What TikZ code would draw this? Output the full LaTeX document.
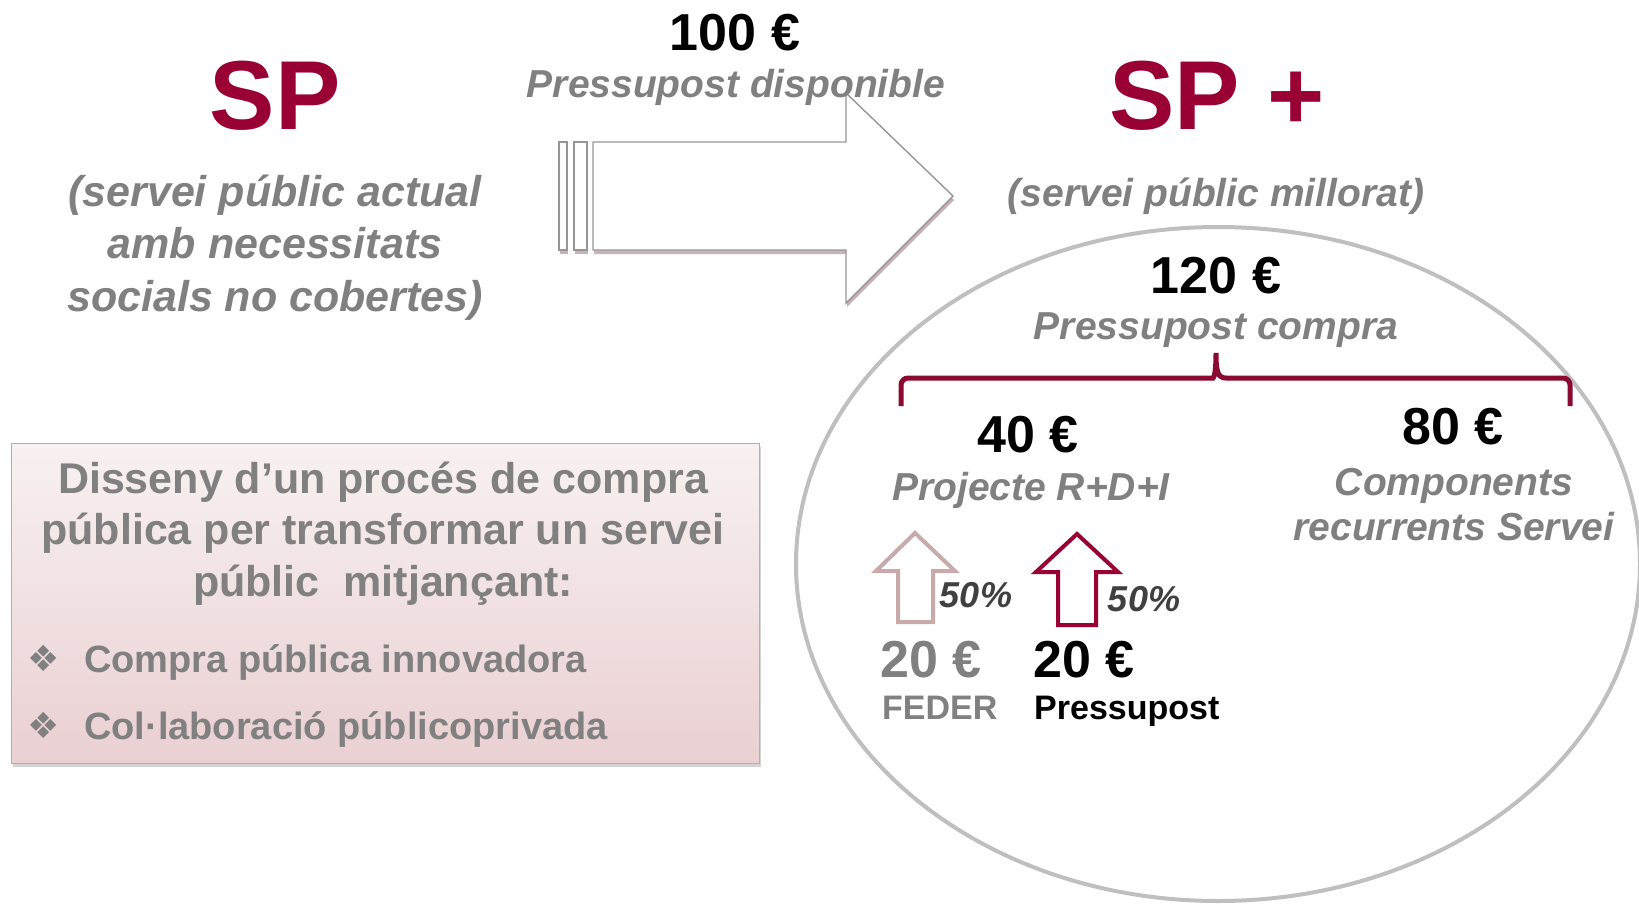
\documentclass[tikz,border=0pt]{standalone}
\usepackage{fontspec}
\setmainfont{Liberation Sans}
\newfontfamily\symfont{DejaVu Sans}
\usetikzlibrary{shadows}
\definecolor{maroon}{RGB}{153,0,51}
\definecolor{bracered}{RGB}{139,10,50}
\definecolor{textgray}{RGB}{128,128,128}
\definecolor{pctgray}{RGB}{64,64,64}
\definecolor{rosegray}{RGB}{200,170,170}
\definecolor{ringgray}{RGB}{191,191,191}
\definecolor{arrowgray}{RGB}{150,150,150}
\definecolor{boxtop}{RGB}{248,241,241}
\definecolor{boxbottom}{RGB}{234,208,210}
\definecolor{boxline}{RGB}{200,165,172}
\definecolor{shadowred}{RGB}{150,100,112}
\newcommand{\fsz}[2]{\fontsize{#1}{#2}\selectfont}
\begin{document}
\begin{tikzpicture}[x=1pt,y=-1pt,
  every node/.style={inner sep=0pt,anchor=base},
  bigtitle/.style={font=\fsz{98}{118}\bfseries,text=maroon},
  note/.style={font=\fsz{43}{52.5}\bfseries\itshape,text=textgray,align=center},
  label/.style={font=\fsz{39}{45}\bfseries\itshape,text=textgray,align=center},
  amount/.style={font=\fsz{52}{60}\bfseries},
  pct/.style={font=\fsz{36}{40}\bfseries\itshape,text=pctgray},
  small/.style={font=\fsz{34}{40}\bfseries},
  boxtext/.style={font=\fsz{43}{51.5}\bfseries,text=textgray,align=center},
  item/.style={font=\fsz{38}{44}\bfseries,text=textgray,anchor=base west},
  bulletmark/.style={text=textgray,font=\symfont\fsz{36}{40}},
  upshaft/.style={line width=4pt,line join=miter},
  softshadow/.style={drop shadow={shadow xshift=1pt,shadow yshift=-4pt,opacity=0.5,fill=shadowred}}]
\useasboundingbox (0,0) rectangle (1639,905);

% ring round the improved service
\draw[ringgray,line width=4pt] (1218,564) ellipse [x radius=422,y radius=337];

% big arrow
\draw[arrowgray,line width=1.4pt,fill=white,softshadow] (559,142) rectangle (567,250);
\draw[arrowgray,line width=1.4pt,fill=white,softshadow] (574,142) rectangle (587,250);
\draw[arrowgray,line width=1.4pt,fill=white,softshadow,line join=miter]
  (593,142) -- (846,142) -- (846,93) -- (953,196) -- (846,303) -- (846,250) -- (593,250) -- cycle;

% left side
\node[bigtitle] (sp) at (275,129) {SP};
\node[note] (spnote) at (275,311) {(servei públic actual\\amb necessitats\\socials no cobertes)};

\node[amount] (budget) at (735,50) {100 €};
\node[label] (budgetlbl) at (736,97) {Pressupost disponible};

% right side
\node[bigtitle] (spplus) at (1217,129) {SP +};
\node[note,font=\fsz{39}{48}\bfseries\itshape] (spplusnote) at (1216,206) {(servei públic millorat)};
\node[amount] (total) at (1216,293) {120 €};
\node[label] (totallbl) at (1216,339) {Pressupost compra};

% brace
\draw[bracered,line width=5pt,
  preaction={draw=black,opacity=0.2,transform canvas={shift={(1pt,-3pt)}}}]
  (901,406) [rounded corners=7pt] -- (901,378) -- (1206,378) [sharp corners]
  .. controls (1214,378) and (1216,372) .. (1216,353)
  .. controls (1216,372) and (1218,378) .. (1226,378) [rounded corners=7pt]
  -- (1570,378) -- (1570,406);

\node[amount] (rdi) at (1028,452) {40 €};
\node[label] (rdilbl) at (1031,500) {Projecte R+D+I};
\node[amount] (rec) at (1453,444) {80 €};
\node[label] (reclbl) at (1454,540) {Components\\recurrents Servei};

% up arrows
\draw[upshaft,rosegray] (915,533) -- (955,571) -- (933,571) -- (933,622) -- (898,622) -- (898,571) -- (876,571) -- cycle;
\draw[upshaft,maroon] (1077,534) -- (1118,572) -- (1096,572) -- (1096,625) -- (1058,625) -- (1058,572) -- (1036,572) -- cycle;
\node[pct] (pctfeder) at (976,607) {50\%};
\node[pct] (pctown) at (1144,611) {50\%};

\node[amount,text=textgray,anchor=base west] (feder) at (880,677) {20 €};
\node[small,text=textgray,anchor=base west] (federlbl) at (882,719) {FEDER};
\node[amount,anchor=base west] (own) at (1033,677) {20 €};
\node[small,anchor=base west] (ownlbl) at (1034,719) {Pressupost};

% box
\fill[top color=boxtop,bottom color=boxbottom,drop shadow={shadow xshift=2pt,shadow yshift=-4pt,opacity=0.35,fill=gray}]
  (11,443) rectangle (759,763);
\draw[boxline,line width=1pt] (11,443) rectangle (759,763);
\node[boxtext] (boxhead) at (383,596) {Disseny d’un procés de compra\\pública per transformar un servei\\públic\ \ mitjançant:};
\node[bulletmark] (bullet1) at (44,671) {❖};
\node[item] (item1) at (84,672) {Compra pública innovadora};
\node[bulletmark] (bullet2) at (44,738) {❖};
\node[item] (item2) at (84,739) {Col·laboració públicoprivada};
\end{tikzpicture}
\end{document}
